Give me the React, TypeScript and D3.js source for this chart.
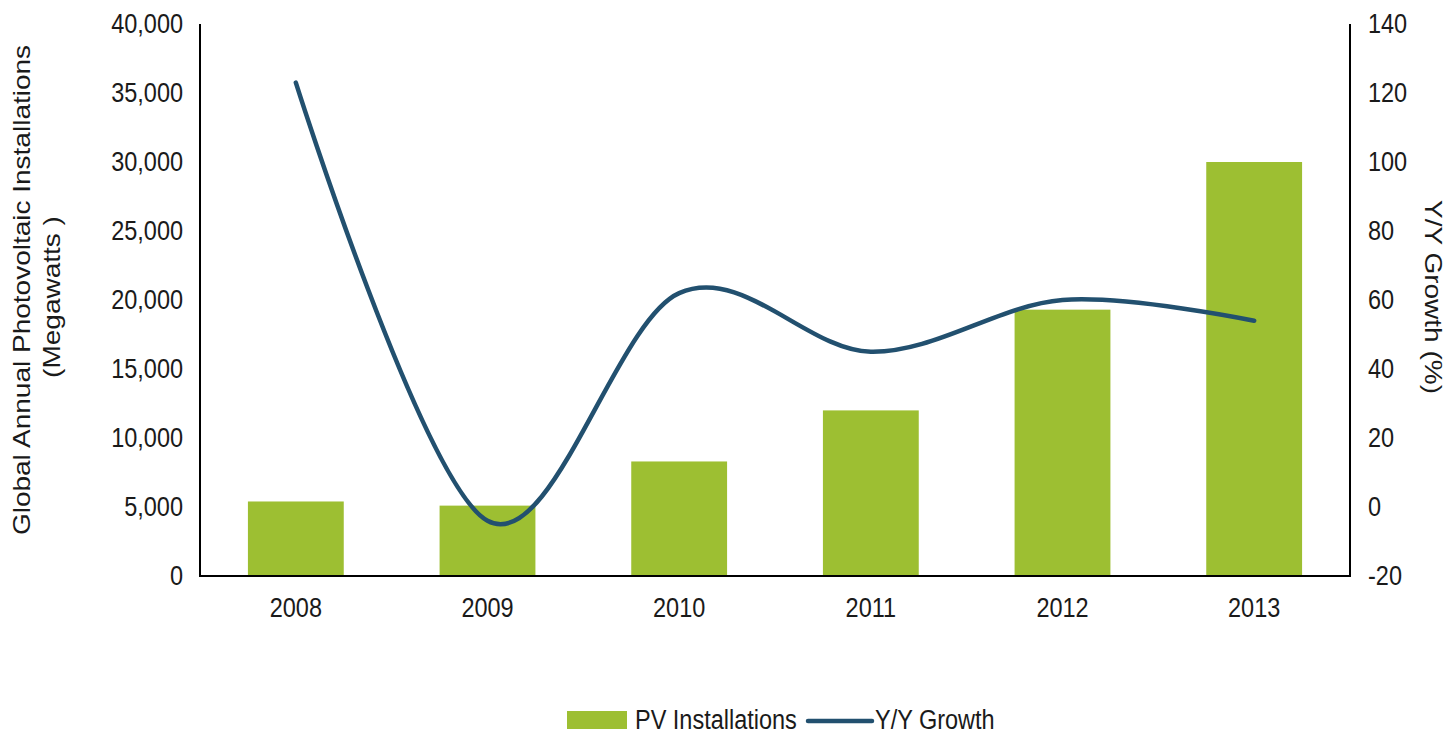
import React, { useEffect, useRef } from "react";
import * as d3 from "d3";

const WIDTH = 1451;
const HEIGHT = 742;
const SQUASH = 0.87; // the source type is a bit narrow
const FONT = "'Liberation Sans', Arial, sans-serif";

const GREEN = "#9dbf32";
const BLUE = "#22506f";

const years = ["2008", "2009", "2010", "2011", "2012", "2013"];
const installations = [5400, 5100, 8300, 12000, 19300, 30000];
const growth = [123, -4, 62, 45, 60, 54];
const leftTicks = [0, 5000, 10000, 15000, 20000, 25000, 30000, 35000, 40000];
const rightTicks = [-20, 0, 20, 40, 60, 80, 100, 120, 140];

const plot = { left: 200, right: 1350, top: 24, bottom: 576 };

function addText(g: any, x: number, y: number, text: string, anchor: string, size: number, rotate?: number) {
  const t = g
    .append("text")
    .attr("transform", `translate(${x},${y}) scale(${SQUASH},1)` + (rotate ? ` rotate(${rotate})` : ""))
    .attr("text-anchor", anchor)
    .attr("font-size", size)
    .attr("font-family", FONT)
    .attr("fill", "#1a1a1a")
    .text(text);
  if (!rotate) t.attr("dy", "0.35em");
  return t;
}

export default function App() {
  const ref = useRef<SVGSVGElement>(null);

  useEffect(() => {
    const svg = d3.select(ref.current);
    svg.selectAll("*").remove();

    const x = d3.scaleBand().domain(years).range([plot.left, plot.right]).paddingInner(0.5).paddingOuter(0.25);
    const yLeft = d3.scaleLinear().domain([0, 40000]).range([plot.bottom, plot.top]);
    const yRight = d3.scaleLinear().domain([-20, 140]).range([plot.bottom, plot.top]);
    const center = (d: string) => (x(d) as number) + x.bandwidth() / 2;

    // bars
    svg.append("g")
      .selectAll("rect")
      .data(years)
      .enter()
      .append("rect")
      .attr("x", (d) => x(d) as number)
      .attr("y", (d, i) => yLeft(installations[i]))
      .attr("width", x.bandwidth())
      .attr("height", (d, i) => yLeft(0) - yLeft(installations[i]))
      .attr("fill", GREEN);

    // axes lines
    svg.append("line")
      .attr("x1", plot.left).attr("x2", plot.left)
      .attr("y1", plot.top).attr("y2", plot.bottom)
      .attr("stroke", "#000").attr("stroke-width", 2);
    svg.append("line")
      .attr("x1", plot.right).attr("x2", plot.right)
      .attr("y1", plot.top).attr("y2", plot.bottom)
      .attr("stroke", "#000").attr("stroke-width", 2);
    svg.append("line")
      .attr("x1", plot.left - 1).attr("x2", plot.right + 1)
      .attr("y1", plot.bottom).attr("y2", plot.bottom)
      .attr("stroke", "#000").attr("stroke-width", 2);

    // growth line, smoothed like the spreadsheet one
    const line = d3.line<number>()
      .x((d, i) => center(years[i]))
      .y((d) => yRight(d))
      .curve(d3.curveCardinal.tension(0));
    svg.append("path")
      .datum(growth)
      .attr("d", line)
      .attr("fill", "none")
      .attr("stroke", BLUE)
      .attr("stroke-width", 4.5)
      .attr("stroke-linecap", "round")
      .attr("stroke-linejoin", "round");

    const labels = svg.append("g");
    const fmt = d3.format(",");
    leftTicks.forEach((t) => addText(labels, 183, yLeft(t), fmt(t), "end", 27));
    rightTicks.forEach((t) => addText(labels, 1368, yRight(t), String(t), "start", 27));
    years.forEach((yr) => addText(labels, center(yr), 608, yr, "middle", 27));

    // axis titles
    addText(labels, 30, 290, "Global Annual Photovoltaic Installations", "middle", 28, -90);
    addText(labels, 60, 297, "(Megawatts )", "middle", 28, -90);
    addText(labels, 1425, 297, "Y/Y Growth (%)", "middle", 28, 90);

    // legend
    const legend = svg.append("g");
    legend.append("rect").attr("x", 567).attr("y", 711).attr("width", 60).attr("height", 18).attr("fill", GREEN);
    addText(legend, 635, 720, "PV Installations", "start", 27);
    legend.append("line")
      .attr("x1", 808).attr("x2", 872).attr("y1", 721).attr("y2", 721)
      .attr("stroke", BLUE).attr("stroke-width", 4.5).attr("stroke-linecap", "round");
    addText(legend, 875, 720, "Y/Y Growth", "start", 27);
  }, []);

  return (
    <svg
      ref={ref}
      width={WIDTH}
      height={HEIGHT}
      style={{ position: "absolute", left: 0, top: 0, background: "#fff" }}
    />
  );
}
